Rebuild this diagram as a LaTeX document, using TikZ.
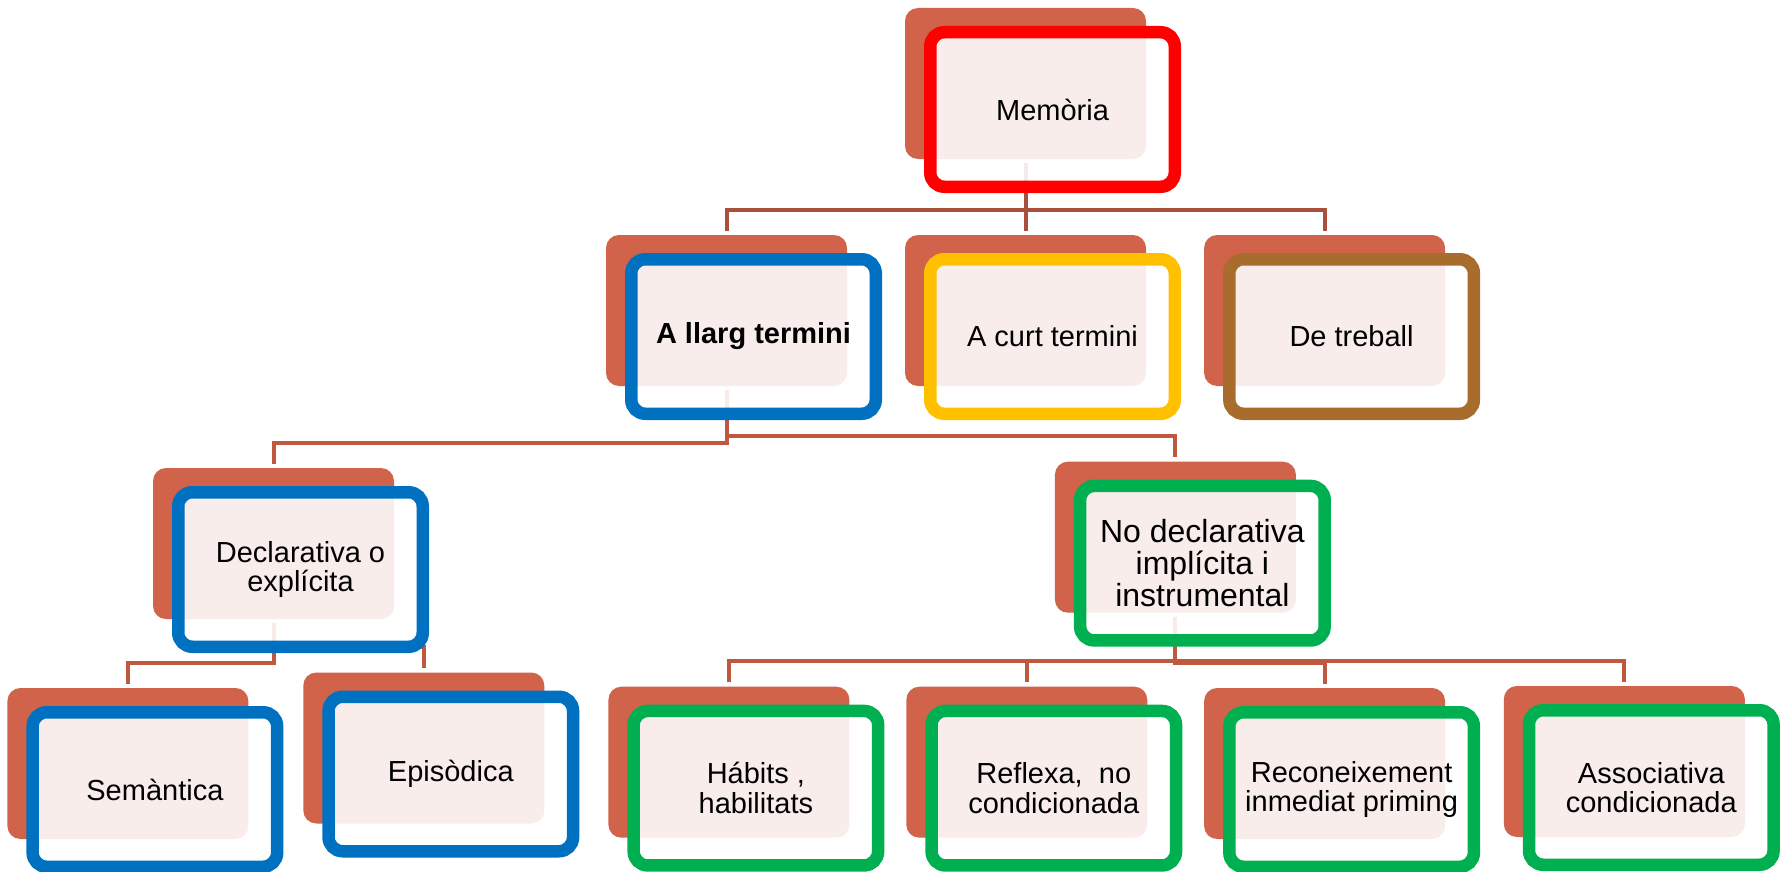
\documentclass[tikz,border=0pt]{standalone}
\usepackage{fontspec}
\setmainfont{Liberation Sans}
\definecolor{backc}{HTML}{D0634A}
\definecolor{topconn}{HTML}{A8503C}
\definecolor{lowconn}{HTML}{C0583F}
\definecolor{cred}{HTML}{FF0000}
\definecolor{cblue}{HTML}{0070C0}
\definecolor{cyellow}{HTML}{FFC000}
\definecolor{cbrown}{HTML}{A86C2C}
\definecolor{cgreen}{HTML}{00B050}
\newcommand\fsnorm{\fontsize{14.5}{14.75}\selectfont}
\newcommand\fsbig{\fontsize{16}{16.15}\selectfont}
\tikzset{
  backbox/.style={fill=backc, draw=none, rounded corners=6.5pt, minimum width=120.5pt, minimum height=75.5pt, inner sep=0pt},
  frontbox/.style={draw=#1, line width=6.25pt, fill=white, fill opacity=0.89, text opacity=1, rounded corners=7pt, minimum width=122.25pt, minimum height=77.25pt, inner sep=0pt, align=center, font=\fsnorm, text=black},
  topline/.style={draw=topconn, line width=2pt},
  lowline/.style={draw=lowconn, line width=2pt},
}
\begin{document}
\begin{tikzpicture}[x=0.5pt,y=-0.5pt]
\useasboundingbox (0,0) rectangle (1788,872);
% back boxes
\node[backbox] (bM)  at (1025.5,83.5) {};
\node[backbox] (bL)  at (726.5,310.5) {};
\node[backbox] (bC)  at (1025.5,310.5) {};
\node[backbox] (bT)  at (1324.6,310.5) {};
\node[backbox] (bD)  at (273.5,543.5) {};
\node[backbox] (bN)  at (1175.4,537.2) {};
\node[backbox] (bS)  at (127.9,763.5) {};
\node[backbox] (bE)  at (423.8,748) {};
\node[backbox] (bH)  at (728.9,762.2) {};
\node[backbox] (bR)  at (1026.8,762.2) {};
\node[backbox] (bI)  at (1324.6,763.5) {};
\node[backbox] (bA)  at (1624.3,761.5) {};
% connectors
\foreach \c in {bL,bC,bT}
  \draw[topline] ([yshift=-2pt]bM.south) |- ([yshift=12.5pt]\c.north) -- ([yshift=2pt]\c.north);
\foreach \c in {bD,bN}
  \draw[lowline] ([yshift=-2pt]bL.south) |- ([yshift=12.5pt]\c.north) -- ([yshift=2pt]\c.north);
\foreach \c in {bS,bE}
  \draw[lowline] ([yshift=-2pt]bD.south) |- ([yshift=12.5pt]\c.north) -- ([yshift=2pt]\c.north);
\foreach \c in {bH,bR,bI,bA}
  \draw[lowline] ([yshift=-2pt]bN.south) |- ([yshift=12.5pt]\c.north) -- ([yshift=2pt]\c.north);
% front boxes
\node[frontbox=cred]    (fM) at ([xshift=13.5pt,yshift=-13pt]bM.center) {Memòria};
\node[frontbox=cblue]   (fL) at ([xshift=13.5pt,yshift=-13pt]bL.center) {\bfseries A llarg termini};
\node[frontbox=cyellow] (fC) at ([xshift=13.5pt,yshift=-13pt]bC.center) {A curt termini};
\node[frontbox=cbrown]  (fT) at ([xshift=13.5pt,yshift=-13pt]bT.center) {De treball};
\node[frontbox=cblue]   (fD) at ([xshift=13.5pt,yshift=-13pt]bD.center) {Declarativa o\\explícita};
\node[frontbox=cgreen, font=\fsbig] (fN) at ([xshift=13.5pt,yshift=-13pt]bN.center) {No declarativa\\implícita i\\instrumental};
\node[frontbox=cblue]   (fS) at ([xshift=13.5pt,yshift=-13pt]bS.center) {Semàntica};
\node[frontbox=cblue]   (fE) at ([xshift=13.5pt,yshift=-13pt]bE.center) {Episòdica};
\node[frontbox=cgreen]  (fH) at ([xshift=13.5pt,yshift=-13pt]bH.center) {Hábits ,\\habilitats};
\node[frontbox=cgreen]  (fR) at ([xshift=13.5pt,yshift=-13pt]bR.center) {Reflexa,\ \ no\\condicionada};
\node[frontbox=cgreen]  (fI) at ([xshift=13.5pt,yshift=-13pt]bI.center) {Reconeixement\\inmediat priming};
\node[frontbox=cgreen]  (fA) at ([xshift=13.5pt,yshift=-13pt]bA.center) {Associativa\\condicionada};
\end{tikzpicture}
\end{document}
